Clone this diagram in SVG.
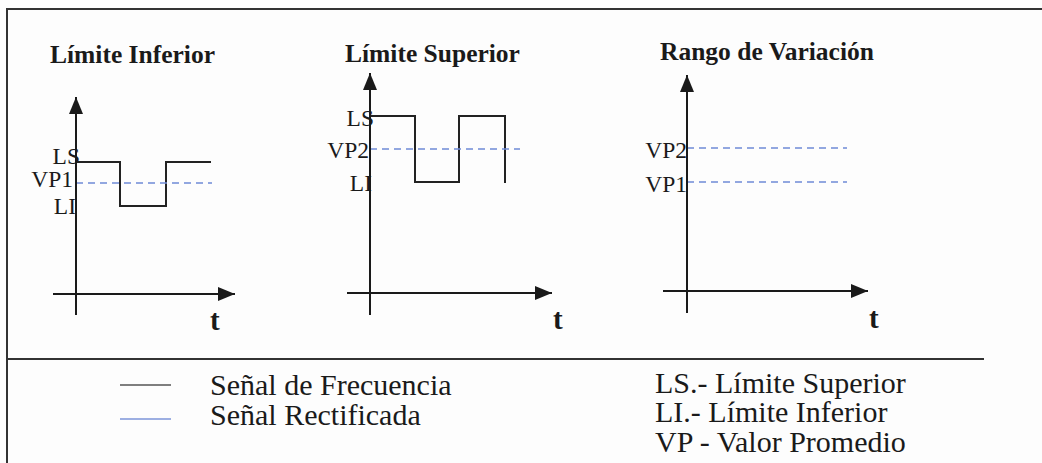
<svg xmlns="http://www.w3.org/2000/svg" width="1042" height="463" viewBox="0 0 1042 463">
  <defs>
    <marker id="arr" markerUnits="userSpaceOnUse" markerWidth="18" markerHeight="14" refX="17" refY="7" orient="auto">
      <path d="M0,0 L17,7 L0,14 Z" fill="#1a1a1a"/>
    </marker>
    <style>
      .frame{stroke:#333;stroke-width:2;fill:none}
      .axis{stroke:#1a1a1a;stroke-width:2;fill:none}
      .sig{stroke:#222;stroke-width:2;fill:none}
      .vp{stroke:#6f8ad6;stroke-width:1.6;stroke-dasharray:7 5;fill:none}
      .title{font-family:"Liberation Serif",serif;font-weight:bold;font-size:25.5px;fill:#1a1a1a}
      .lbl{font-family:"Liberation Serif",serif;font-size:23.5px;fill:#1a1a1a}
      .t{font-family:"Liberation Serif",serif;font-size:29px;fill:#1a1a1a;font-weight:bold}
      .leg{font-family:"Liberation Serif",serif;font-size:30px;fill:#1a1a1a}
    </style>
  </defs>
  <rect width="1042" height="463" fill="#fdfdfd"/>
  <g id="frame">
    <path class="frame" d="M7,463 V9 H1042"/>
    <path class="frame" d="M7,359 H984"/>
  </g>
  <g id="plot-limite-inferior">
    <text class="title" x="50" y="63">Límite Inferior</text>
    <text class="lbl" x="80" y="164" text-anchor="end">LS</text>
    <text class="lbl" x="73" y="187" text-anchor="end">VP1</text>
    <text class="lbl" x="76" y="214" text-anchor="end">LI</text>
    <path class="sig" d="M76,162 H120 V206 H166 V162 H211"/>
    <path class="vp" d="M76,183 H212"/>
    <text class="t" x="210" y="330">t</text>
  </g>
  <g id="plot-limite-superior">
    <text class="title" x="345" y="62">Límite Superior</text>
    <text class="lbl" x="374" y="126" text-anchor="end">LS</text>
    <text class="lbl" x="369" y="158" text-anchor="end">VP2</text>
    <text class="lbl" x="372" y="191" text-anchor="end">LI</text>
    <path class="sig" d="M370,116 H415 V182 H459 V116 H505 V183"/>
    <path class="vp" d="M370,149 H520"/>
    <text class="t" x="553" y="329">t</text>
  </g>
  <g id="plot-rango-variacion">
    <text class="title" x="660" y="60">Rango de Variación</text>
    <text class="lbl" x="687" y="158" text-anchor="end">VP2</text>
    <text class="lbl" x="687" y="192" text-anchor="end">VP1</text>
    <path class="vp" d="M687,148 H847"/>
    <path class="vp" d="M687,182 H847"/>
    <text class="t" x="869" y="328">t</text>
  </g>
  <g id="connectors">
    <path class="axis" d="M76,315 V97" marker-end="url(#arr)"/>
    <path class="axis" d="M53,294 H235" marker-end="url(#arr)"/>
    <path class="axis" d="M370,315 V73" marker-end="url(#arr)"/>
    <path class="axis" d="M347,293 H552" marker-end="url(#arr)"/>
    <path class="axis" d="M687,313 V75" marker-end="url(#arr)"/>
    <path class="axis" d="M663,291 H868" marker-end="url(#arr)"/>
  </g>
  <g id="legend">
    <path d="M120,385 H171" stroke="#555" stroke-width="1.5"/>
    <path d="M120,419 H171" stroke="#7d95d8" stroke-width="1.5"/>
    <text class="leg" x="210" y="395">Señal de Frecuencia</text>
    <text class="leg" x="210" y="425">Señal Rectificada</text>
    <text class="leg" x="655" y="393">LS.- Límite Superior</text>
    <text class="leg" x="655" y="422">LI.- Límite Inferior</text>
    <text class="leg" x="655" y="452">VP - Valor Promedio</text>
  </g>
</svg>
